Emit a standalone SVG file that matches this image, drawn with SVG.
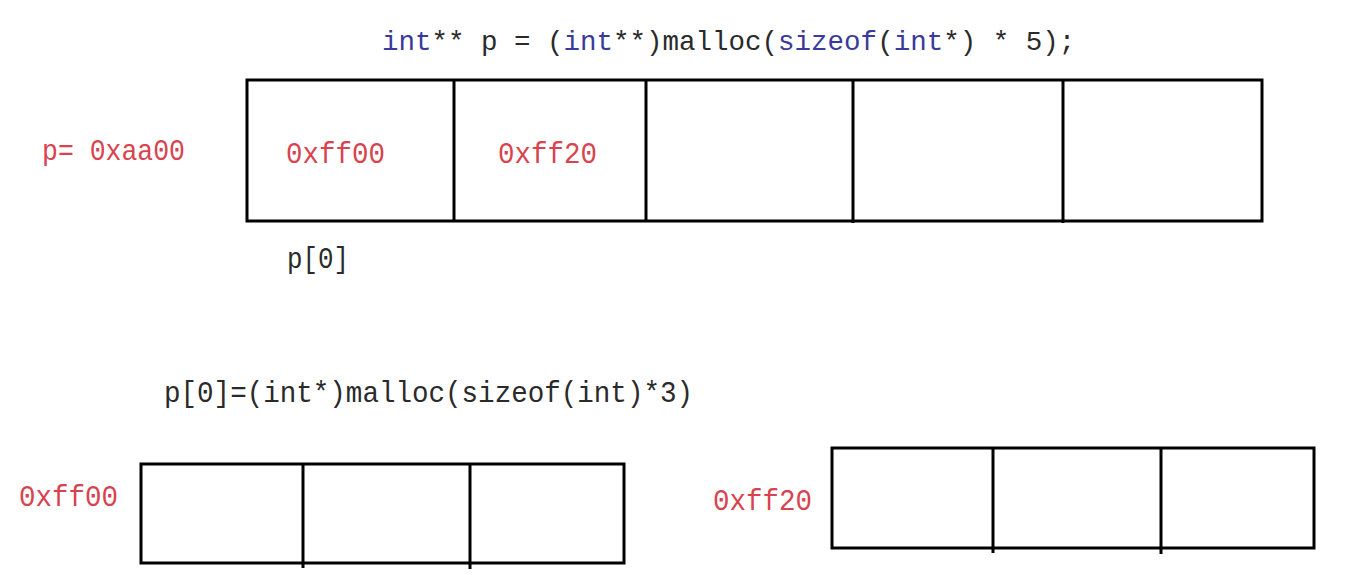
<svg xmlns="http://www.w3.org/2000/svg" width="1346" height="575" viewBox="0 0 1346 575">
<style>
.t{font-family:"Liberation Mono","DejaVu Sans Mono",monospace;font-size:29px;fill:#2a2a2a}
.title{font-family:"Liberation Mono","DejaVu Sans Mono",monospace;font-size:27.5px;fill:#2a2a2a}
.kw{fill:#3a3a9a}
.r{font-family:"Liberation Mono","DejaVu Sans Mono",monospace;font-size:29px;fill:#d8434f}
.box{fill:none;stroke:#000;stroke-width:3}
.div{stroke:#000;stroke-width:3}
</style>
<rect width="1346" height="575" fill="#fff"/>
<g id="title">
<text class="title" x="382" y="50"><tspan class="kw">int</tspan>** p = (<tspan class="kw">int</tspan>**)malloc(<tspan class="kw">sizeof</tspan>(<tspan class="kw">int</tspan>*) * 5);</text>
</g>
<g id="p-label"><text class="r" x="42" y="160" textLength="143" lengthAdjust="spacingAndGlyphs">p= 0xaa00</text></g>
<g id="array-p">
<rect class="box" x="247" y="80" width="1015" height="141"/>
<line class="div" x1="454" y1="80" x2="454" y2="221"/>
<line class="div" x1="646" y1="80" x2="646" y2="221"/>
<line class="div" x1="853" y1="80" x2="853" y2="223"/>
<line class="div" x1="1063" y1="80" x2="1063" y2="223"/>
<text class="r" x="286" y="163" textLength="99" lengthAdjust="spacingAndGlyphs">0xff00</text>
<text class="r" x="498" y="163" textLength="99" lengthAdjust="spacingAndGlyphs">0xff20</text>
</g>
<g id="p0-label"><text class="t" x="287" y="268" textLength="62" lengthAdjust="spacingAndGlyphs">p[0]</text></g>
<g id="code2"><text class="t" x="164" y="402" textLength="529" lengthAdjust="spacingAndGlyphs">p[0]=(int*)malloc(sizeof(int)*3)</text></g>
<g id="array-ff00">
<text class="r" x="19" y="506" textLength="99" lengthAdjust="spacingAndGlyphs">0xff00</text>
<rect class="box" x="141" y="464" width="483" height="99"/>
<line class="div" x1="303" y1="464" x2="303" y2="568"/>
<line class="div" x1="470" y1="464" x2="470" y2="569"/>
</g>
<g id="array-ff20">
<text class="r" x="713" y="510" textLength="99" lengthAdjust="spacingAndGlyphs">0xff20</text>
<rect class="box" x="832" y="448" width="482" height="100"/>
<line class="div" x1="993" y1="448" x2="993" y2="553"/>
<line class="div" x1="1161" y1="448" x2="1161" y2="554"/>
</g>
<g id="connectors"></g>
</svg>
